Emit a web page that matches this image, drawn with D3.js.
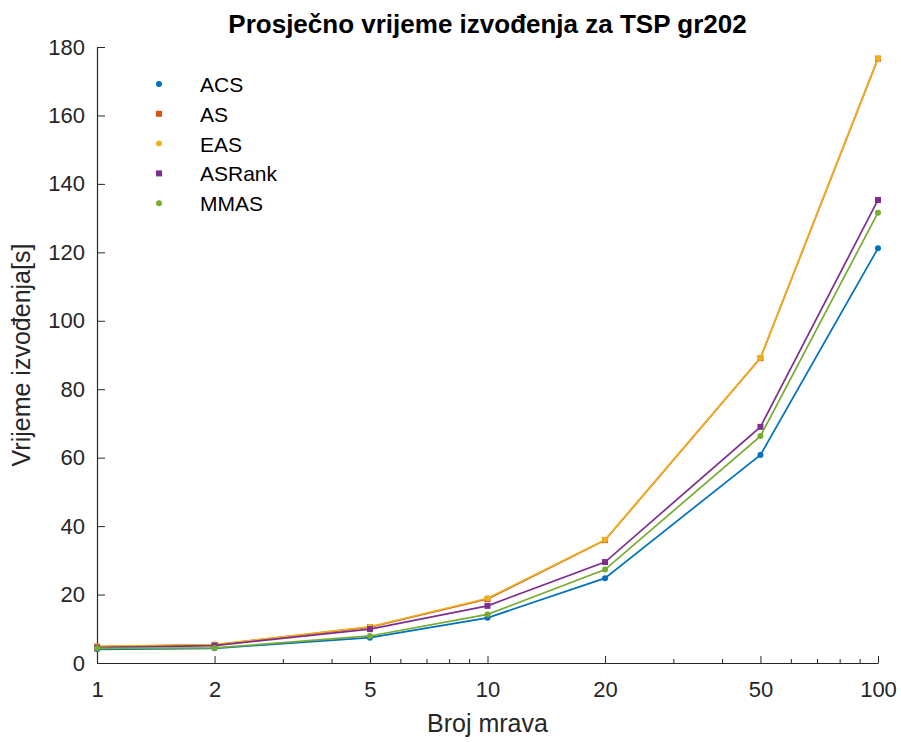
<!DOCTYPE html>
<html>
<head>
<meta charset="utf-8">
<script src="https://cdn.jsdelivr.net/npm/d3@7"></script>
<style>
  body { margin: 0; background: #fff; }
  text { font-family: "Liberation Sans", Arial, sans-serif; }
</style>
</head>
<body>
<div id="chart"></div>
<script>
var svgWidth = 901;
var svgHeight = 742;

var margin = { top: 47, right: 23, bottom: 79, left: 97 };
var width = svgWidth - margin.left - margin.right;
var height = svgHeight - margin.top - margin.bottom;

// data
var ants = [1, 2, 5, 10, 20, 50, 100];
var acs = [4.0, 4.3, 7.4, 13.2, 24.8, 60.8, 121.2];
var as = [4.8, 5.3, 10.5, 18.7, 35.9, 89.1, 176.6];
var eas = [4.9, 5.4, 10.6, 18.9, 36.0, 89.2, 176.7];
var asRank = [4.5, 5.1, 9.9, 16.7, 29.5, 69.0, 135.3];
var mmas = [4.3, 4.4, 7.9, 14.2, 27.3, 66.3, 131.6];

var seriesNames = ["ACS", "AS", "EAS", "ASRank", "MMAS"];
var seriesValues = [acs, as, eas, asRank, mmas];
var colors = ["#0072BD", "#D95319", "#EDB120", "#7E2F8E", "#77AC30"];
var markers = ["dot", "square", "dot", "square", "dot"];

var xTicks = [1, 2, 5, 10, 20, 50, 100];
var xMinorTicks = [3, 4, 6, 7, 8, 9, 30, 40, 60, 70, 80, 90];
var yTicks = [0, 20, 40, 60, 80, 100, 120, 140, 160, 180];

var svg = d3.select("#chart")
  .append("svg")
  .attr("width", svgWidth)
  .attr("height", svgHeight);

var chartGroup = svg.append("g")
  .attr("transform", `translate(${margin.left}, ${margin.top})`);

var xScale = d3.scaleLog().domain([1, 100]).range([0, width]);
var yScale = d3.scaleLinear().domain([0, 180]).range([height, 0]);

// axes: ticks point inward like matlab
var bottomAxis = d3.axisBottom(xScale)
  .tickValues(xTicks)
  .tickFormat(d3.format("d"))
  .tickSizeInner(-7)
  .tickSizeOuter(0)
  .tickPadding(18);

var leftAxis = d3.axisLeft(yScale)
  .tickValues(yTicks)
  .tickSizeInner(-8)
  .tickSizeOuter(0)
  .tickPadding(12);

var xAxis = chartGroup.append("g")
  .attr("transform", `translate(0, ${height})`)
  .call(bottomAxis);

xAxis.selectAll(".minor")
  .data(xMinorTicks)
  .enter()
  .append("line")
  .attr("class", "minor")
  .attr("x1", d => xScale(d))
  .attr("x2", d => xScale(d))
  .attr("y1", 0)
  .attr("y2", -4)
  .attr("stroke", "#262626");

var yAxis = chartGroup.append("g").call(leftAxis);

[xAxis, yAxis].forEach(function(ax) {
  ax.select(".domain").attr("stroke", "#262626").attr("stroke-width", 1.2);
  ax.selectAll(".tick line").attr("stroke", "#262626");
  ax.selectAll(".tick text")
    .attr("fill", "#262626")
    .style("font-size", "22px")
    .style("font-family", "'Liberation Sans', Arial, sans-serif");
});

// lines
var line = d3.line()
  .x((d, i) => xScale(ants[i]))
  .y(d => yScale(d));

function drawMarker(sel, type, color, size) {
  if (type === "square") {
    sel.append("rect")
      .attr("x", -size / 2).attr("y", -size / 2)
      .attr("width", size).attr("height", size)
      .attr("fill", color);
  } else {
    sel.append("circle")
      .attr("r", size / 2)
      .attr("fill", color);
  }
}

seriesValues.forEach(function(vals, s) {
  chartGroup.append("path")
    .datum(vals)
    .attr("d", line)
    .attr("fill", "none")
    .attr("stroke", colors[s])
    .attr("stroke-width", 1.7);

  chartGroup.selectAll(".pt" + s)
    .data(vals)
    .enter()
    .append("g")
    .attr("class", "pt" + s)
    .attr("transform", (d, i) => `translate(${xScale(ants[i])}, ${yScale(d)})`)
    .each(function() { drawMarker(d3.select(this), markers[s], colors[s], 6); });
});

// legend
var legend = chartGroup.append("g")
  .attr("transform", "translate(62, 37)");

seriesNames.forEach(function(name, s) {
  var row = legend.append("g")
    .attr("transform", `translate(0, ${s * 29.8})`);
  drawMarker(row, markers[s], colors[s], 6);
  row.append("text")
    .attr("x", 41)
    .attr("y", 8)
    .attr("fill", "#000")
    .style("font-size", "21px")
    .text(name);
});

// title and labels
svg.append("text")
  .attr("x", margin.left + width / 2)
  .attr("y", 33)
  .attr("text-anchor", "middle")
  .style("font-size", "26px")
  .style("font-weight", "bold")
  .attr("fill", "#000")
  .text("Prosječno vrijeme izvođenja za TSP gr202");

svg.append("text")
  .attr("x", margin.left + width / 2)
  .attr("y", 732)
  .attr("text-anchor", "middle")
  .style("font-size", "25px")
  .attr("fill", "#262626")
  .text("Broj mrava");

svg.append("text")
  .attr("transform", `translate(30, ${margin.top + height / 2}) rotate(-90)`)
  .attr("text-anchor", "middle")
  .style("font-size", "25px")
  .attr("fill", "#262626")
  .text("Vrijeme izvođenja[s]");
</script>
</body>
</html>
